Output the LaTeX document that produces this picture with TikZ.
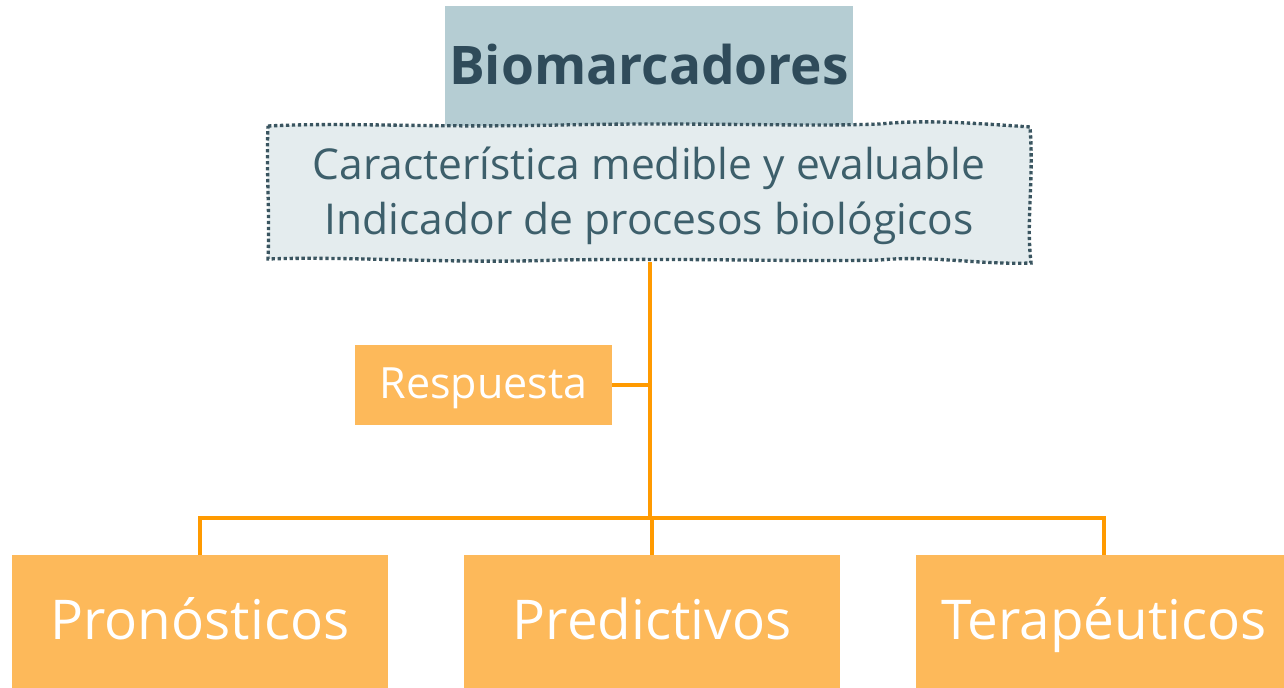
\documentclass[tikz,border=0pt]{standalone}
\usepackage{fontspec}
\setmainfont{Open Sans}
\usepackage{tikz}
\usetikzlibrary{positioning}

\definecolor{titlefill}{HTML}{B5CDD3}
\definecolor{titletext}{HTML}{2F4B5A}
\definecolor{descfill}{HTML}{E4ECEE}
\definecolor{descline}{HTML}{3A5560}
\definecolor{desctext}{HTML}{3D5F6B}
\definecolor{linkorange}{HTML}{FF9A00}
\definecolor{boxorange}{HTML}{FDB95A}

\begin{document}
\begin{tikzpicture}[x=0.02cm,y=-0.02cm,
	titlebox/.style={fill=titlefill,text=titletext,minimum width=8.16cm,minimum height=2.44cm,inner sep=0pt,text height=21.8pt,text depth=1.4pt,font=\fontsize{30.3}{36}\selectfont\bfseries},
	descbox/.style={minimum width=15.24cm,minimum height=2.76cm,inner sep=0pt},
	descline/.style={text=desctext,inner sep=0pt,anchor=base,font=\fontsize{24.2}{31.2}\selectfont},
	orangebox/.style={fill=boxorange,text=white,inner sep=0pt},
	link/.style={draw=linkorange,line width=2.3pt}]
		\clip (0,0) rectangle (1284,688);
		\node[titlebox] (title) at (649,67) {Biomarcadores};
		\draw[fill=descfill,draw=descline,line width=1.9pt,dash pattern=on 1.9pt off 1.5pt]
		(268,126) .. controls (350,122) and (420,128) .. (560,125)
		.. controls (700,122) and (800,127) .. (880,124)
		.. controls (920,120) and (960,122) .. (1030,127)
		.. controls (1034,180) and (1026,220) .. (1031,263)
		.. controls (980,265) and (930,255) .. (880,260)
		.. controls (800,262) and (700,258) .. (560,260)
		.. controls (450,264) and (350,256) .. (268,259)
		.. controls (270,210) and (266,170) .. cycle;
		\node[descbox] (desc) at (650,193) {};
		\node[descline] (line1) at (649,180) {Característica medible y evaluable};
		\node[descline] (line2) at (649,235) {Indicador de procesos biológicos};
		\node[orangebox,minimum width=5.14cm,minimum height=1.6cm,text height=17.6pt,text depth=1.7pt,font=\fontsize{24.5}{28}\selectfont] (resp) at (483.5,385) {Respuesta};
		\node[orangebox,minimum width=7.52cm,minimum height=2.7cm,text height=21.8pt,text depth=2pt,font=\fontsize{31.2}{36}\selectfont] (pron) at (200,622.5) {Pronósticos};
		\node[orangebox,minimum width=7.52cm,minimum height=2.7cm,text height=21.8pt,text depth=2pt,font=\fontsize{31.2}{36}\selectfont] (pred) at (652,622.5) {Predictivos};
		\node[orangebox,minimum width=7.52cm,minimum height=2.7cm,text height=21.8pt,text depth=2pt,font=\fontsize{31.2}{36}\selectfont] (terap) at (1104,622.5) {Terapéuticos};
		\coordinate (hub) at (650,518);
		\draw[link] (desc.south) -- (hub);
		\draw[link] (resp.east) -- (resp.east -| hub);
		\draw[link] (pron.north) |- (hub) -| (terap.north);
		\draw[link] (hub -| pred.north) -- (pred.north);
	\end{tikzpicture}
\end{document}
